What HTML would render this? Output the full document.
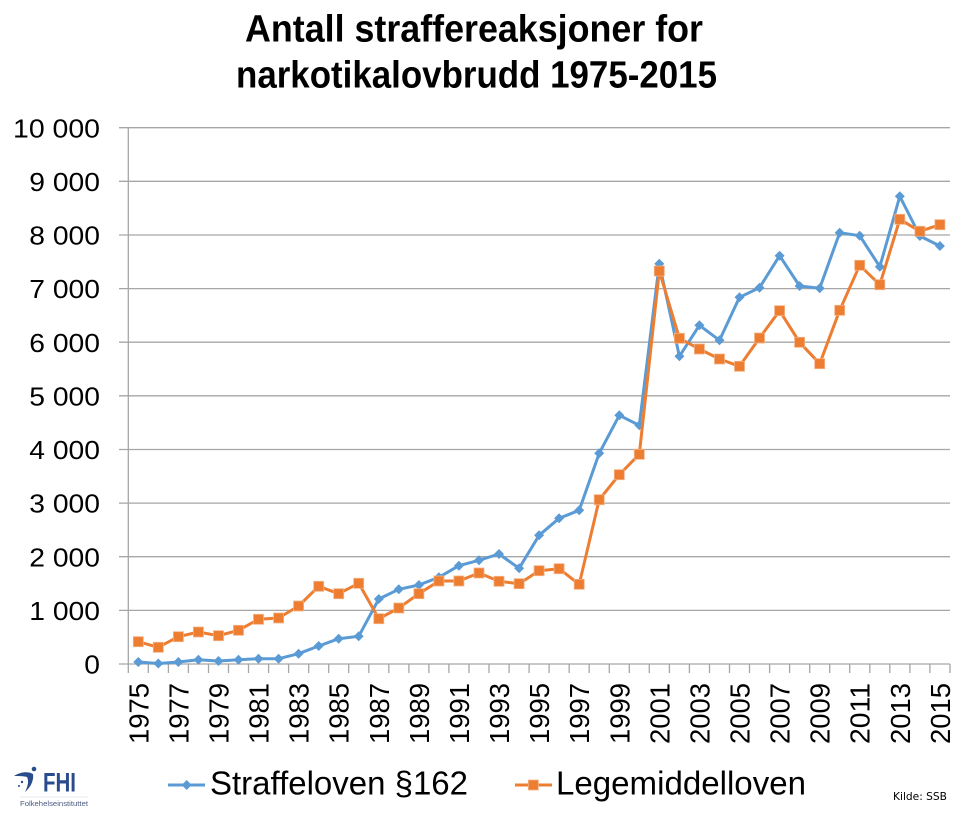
<!DOCTYPE html>
<html>
<head>
<meta charset="utf-8">
<style>
html,body{margin:0;padding:0;background:#fff;}
svg{display:block;}
</style>
</head>
<body>
<svg width="970" height="820" viewBox="0 0 970 820" xmlns="http://www.w3.org/2000/svg">
<rect x="0" y="0" width="970" height="820" fill="#ffffff"/>
<defs>
  <g id="dia"><path d="M0,-5 L5,0 L0,5 L-5,0 Z" fill="#5B9BD5"/></g>
  <g id="sq"><rect x="-5" y="-5" width="10" height="10" fill="#ED7D31" stroke="#F4B183" stroke-width="0.8"/></g>
</defs>

<!-- Title -->
<g font-family="Liberation Sans, Arial, sans-serif" font-weight="bold" font-size="38" fill="#000">
  <text x="245" y="41.7" textLength="458" lengthAdjust="spacingAndGlyphs">Antall straffereaksjoner for</text>
  <text x="236" y="87.3" textLength="481" lengthAdjust="spacingAndGlyphs">narkotikalovbrudd 1975-2015</text>
</g>

<!-- Gridlines -->
<g stroke="#A6A6A6" stroke-width="1.3">
  <line x1="119" y1="127.7" x2="950" y2="127.7"/>
  <line x1="119" y1="181.3" x2="950" y2="181.3"/>
  <line x1="119" y1="235.0" x2="950" y2="235.0"/>
  <line x1="119" y1="288.6" x2="950" y2="288.6"/>
  <line x1="119" y1="342.2" x2="950" y2="342.2"/>
  <line x1="119" y1="395.8" x2="950" y2="395.8"/>
  <line x1="119" y1="449.5" x2="950" y2="449.5"/>
  <line x1="119" y1="503.1" x2="950" y2="503.1"/>
  <line x1="119" y1="556.7" x2="950" y2="556.7"/>
  <line x1="119" y1="610.4" x2="950" y2="610.4"/>
  <line x1="119" y1="664.0" x2="950" y2="664.0"/>
  <line x1="128.3" y1="127.7" x2="128.3" y2="664"/>
</g>
<!-- X ticks -->
<g stroke="#A6A6A6" stroke-width="1.3">
  <path d="M128.3,664v9 M148.3,664v9 M168.4,664v9 M188.4,664v9 M208.5,664v9 M228.5,664v9 M248.5,664v9 M268.6,664v9 M288.6,664v9 M308.7,664v9 M328.7,664v9 M348.7,664v9 M368.8,664v9 M388.8,664v9 M408.9,664v9 M428.9,664v9 M448.9,664v9 M469.0,664v9 M489.0,664v9 M509.1,664v9 M529.1,664v9 M549.1,664v9 M569.2,664v9 M589.2,664v9 M609.3,664v9 M629.3,664v9 M649.3,664v9 M669.4,664v9 M689.4,664v9 M709.5,664v9 M729.5,664v9 M749.5,664v9 M769.6,664v9 M789.6,664v9 M809.7,664v9 M829.7,664v9 M849.7,664v9 M869.8,664v9 M889.8,664v9 M909.9,664v9 M929.9,664v9 M950,664v9"/>
</g>

<!-- Y labels -->
<g font-family="Liberation Sans, Arial, sans-serif" font-size="26" fill="#000" text-anchor="end">
  <text x="100" y="137.3" textLength="87" lengthAdjust="spacingAndGlyphs">10 000</text>
  <text x="100" y="190.9" textLength="70.7" lengthAdjust="spacingAndGlyphs">9 000</text>
  <text x="100" y="244.6" textLength="70.7" lengthAdjust="spacingAndGlyphs">8 000</text>
  <text x="100" y="298.2" textLength="70.7" lengthAdjust="spacingAndGlyphs">7 000</text>
  <text x="100" y="351.8" textLength="70.7" lengthAdjust="spacingAndGlyphs">6 000</text>
  <text x="100" y="405.4" textLength="70.7" lengthAdjust="spacingAndGlyphs">5 000</text>
  <text x="100" y="459.1" textLength="70.7" lengthAdjust="spacingAndGlyphs">4 000</text>
  <text x="100" y="512.7" textLength="70.7" lengthAdjust="spacingAndGlyphs">3 000</text>
  <text x="100" y="566.3" textLength="70.7" lengthAdjust="spacingAndGlyphs">2 000</text>
  <text x="100" y="620.0" textLength="70.7" lengthAdjust="spacingAndGlyphs">1 000</text>
  <text x="100" y="673.6" textLength="15.7" lengthAdjust="spacingAndGlyphs">0</text>
</g>

<!-- X labels -->
<g font-family="Liberation Sans, Arial, sans-serif" font-size="28" fill="#000" text-anchor="end">
  <text transform="translate(148.3,683) rotate(-90)" textLength="61" lengthAdjust="spacingAndGlyphs">1975</text>
  <text transform="translate(188.4,683) rotate(-90)" textLength="61" lengthAdjust="spacingAndGlyphs">1977</text>
  <text transform="translate(228.5,683) rotate(-90)" textLength="61" lengthAdjust="spacingAndGlyphs">1979</text>
  <text transform="translate(268.5,683) rotate(-90)" textLength="61" lengthAdjust="spacingAndGlyphs">1981</text>
  <text transform="translate(308.6,683) rotate(-90)" textLength="61" lengthAdjust="spacingAndGlyphs">1983</text>
  <text transform="translate(348.7,683) rotate(-90)" textLength="61" lengthAdjust="spacingAndGlyphs">1985</text>
  <text transform="translate(388.8,683) rotate(-90)" textLength="61" lengthAdjust="spacingAndGlyphs">1987</text>
  <text transform="translate(428.9,683) rotate(-90)" textLength="61" lengthAdjust="spacingAndGlyphs">1989</text>
  <text transform="translate(469.0,683) rotate(-90)" textLength="61" lengthAdjust="spacingAndGlyphs">1991</text>
  <text transform="translate(509.0,683) rotate(-90)" textLength="61" lengthAdjust="spacingAndGlyphs">1993</text>
  <text transform="translate(549.1,683) rotate(-90)" textLength="61" lengthAdjust="spacingAndGlyphs">1995</text>
  <text transform="translate(589.2,683) rotate(-90)" textLength="61" lengthAdjust="spacingAndGlyphs">1997</text>
  <text transform="translate(629.3,683) rotate(-90)" textLength="61" lengthAdjust="spacingAndGlyphs">1999</text>
  <text transform="translate(669.3,683) rotate(-90)" textLength="61" lengthAdjust="spacingAndGlyphs">2001</text>
  <text transform="translate(709.4,683) rotate(-90)" textLength="61" lengthAdjust="spacingAndGlyphs">2003</text>
  <text transform="translate(749.5,683) rotate(-90)" textLength="61" lengthAdjust="spacingAndGlyphs">2005</text>
  <text transform="translate(789.6,683) rotate(-90)" textLength="61" lengthAdjust="spacingAndGlyphs">2007</text>
  <text transform="translate(829.7,683) rotate(-90)" textLength="61" lengthAdjust="spacingAndGlyphs">2009</text>
  <text transform="translate(869.7,683) rotate(-90)" textLength="61" lengthAdjust="spacingAndGlyphs">2011</text>
  <text transform="translate(909.8,683) rotate(-90)" textLength="61" lengthAdjust="spacingAndGlyphs">2013</text>
  <text transform="translate(949.9,683) rotate(-90)" textLength="61" lengthAdjust="spacingAndGlyphs">2015</text>
</g>

<!-- Blue series: Straffeloven §162 -->
<polyline fill="none" stroke="#5B9BD5" stroke-width="3" stroke-linejoin="round"
points="138.3,662 158.3,663.5 178.4,662 198.4,659.7 218.5,661 238.5,659.7 258.5,658.7 278.6,658.7 298.6,653.7 318.7,646 338.7,638.7 358.7,636.3 378.8,599 398.8,589.3 418.9,585 438.9,577.3 458.9,565.7 479.0,560.3 499.0,554 519.1,568.3 539.1,535.3 559.1,518.3 579.2,510.3 599.2,453.3 619.3,415.3 639.3,425.3 659.3,263.7 679.4,356.3 699.4,325.3 719.5,340.3 739.5,297.3 759.5,287.7 779.6,255.7 799.6,286 819.7,288.3 839.7,232.7 859.7,235.7 879.8,266.7 899.8,196.3 919.9,236 939.9,246"/>
<g>
<use href="#dia" x="138.3" y="662"/><use href="#dia" x="158.3" y="663.5"/><use href="#dia" x="178.4" y="662"/><use href="#dia" x="198.4" y="659.7"/><use href="#dia" x="218.5" y="661"/><use href="#dia" x="238.5" y="659.7"/><use href="#dia" x="258.5" y="658.7"/><use href="#dia" x="278.6" y="658.7"/><use href="#dia" x="298.6" y="653.7"/><use href="#dia" x="318.7" y="646"/><use href="#dia" x="338.7" y="638.7"/><use href="#dia" x="358.7" y="636.3"/><use href="#dia" x="378.8" y="599"/><use href="#dia" x="398.8" y="589.3"/><use href="#dia" x="418.9" y="585"/><use href="#dia" x="438.9" y="577.3"/><use href="#dia" x="458.9" y="565.7"/><use href="#dia" x="479.0" y="560.3"/><use href="#dia" x="499.0" y="554"/><use href="#dia" x="519.1" y="568.3"/><use href="#dia" x="539.1" y="535.3"/><use href="#dia" x="559.1" y="518.3"/><use href="#dia" x="579.2" y="510.3"/><use href="#dia" x="599.2" y="453.3"/><use href="#dia" x="619.3" y="415.3"/><use href="#dia" x="639.3" y="425.3"/><use href="#dia" x="659.3" y="263.7"/><use href="#dia" x="679.4" y="356.3"/><use href="#dia" x="699.4" y="325.3"/><use href="#dia" x="719.5" y="340.3"/><use href="#dia" x="739.5" y="297.3"/><use href="#dia" x="759.5" y="287.7"/><use href="#dia" x="779.6" y="255.7"/><use href="#dia" x="799.6" y="286"/><use href="#dia" x="819.7" y="288.3"/><use href="#dia" x="839.7" y="232.7"/><use href="#dia" x="859.7" y="235.7"/><use href="#dia" x="879.8" y="266.7"/><use href="#dia" x="899.8" y="196.3"/><use href="#dia" x="919.9" y="236"/><use href="#dia" x="939.9" y="246"/>
</g>

<!-- Orange series: Legemiddelloven -->
<polyline fill="none" stroke="#ED7D31" stroke-width="3" stroke-linejoin="round"
points="138.3,641.7 158.3,647.3 178.4,636.7 198.4,632 218.5,635.7 238.5,630.3 258.5,619.3 278.6,618 298.6,606 318.7,586.3 338.7,593.7 358.7,583.3 378.8,618.7 398.8,608 418.9,593.7 438.9,581 458.9,581 479.0,573 499.0,581.3 519.1,583.7 539.1,570.7 559.1,568.7 579.2,584.3 599.2,499.7 619.3,474.7 639.3,454.3 659.3,271 679.4,338.3 699.4,349 719.5,359 739.5,366.3 759.5,338 779.6,310.7 799.6,342.3 819.7,363.7 839.7,310.3 859.7,265.3 879.8,284.7 899.8,219.3 919.9,231.3 939.9,224.7"/>
<g>
<use href="#sq" x="138.3" y="641.7"/><use href="#sq" x="158.3" y="647.3"/><use href="#sq" x="178.4" y="636.7"/><use href="#sq" x="198.4" y="632"/><use href="#sq" x="218.5" y="635.7"/><use href="#sq" x="238.5" y="630.3"/><use href="#sq" x="258.5" y="619.3"/><use href="#sq" x="278.6" y="618"/><use href="#sq" x="298.6" y="606"/><use href="#sq" x="318.7" y="586.3"/><use href="#sq" x="338.7" y="593.7"/><use href="#sq" x="358.7" y="583.3"/><use href="#sq" x="378.8" y="618.7"/><use href="#sq" x="398.8" y="608"/><use href="#sq" x="418.9" y="593.7"/><use href="#sq" x="438.9" y="581"/><use href="#sq" x="458.9" y="581"/><use href="#sq" x="479.0" y="573"/><use href="#sq" x="499.0" y="581.3"/><use href="#sq" x="519.1" y="583.7"/><use href="#sq" x="539.1" y="570.7"/><use href="#sq" x="559.1" y="568.7"/><use href="#sq" x="579.2" y="584.3"/><use href="#sq" x="599.2" y="499.7"/><use href="#sq" x="619.3" y="474.7"/><use href="#sq" x="639.3" y="454.3"/><use href="#sq" x="659.3" y="271"/><use href="#sq" x="679.4" y="338.3"/><use href="#sq" x="699.4" y="349"/><use href="#sq" x="719.5" y="359"/><use href="#sq" x="739.5" y="366.3"/><use href="#sq" x="759.5" y="338"/><use href="#sq" x="779.6" y="310.7"/><use href="#sq" x="799.6" y="342.3"/><use href="#sq" x="819.7" y="363.7"/><use href="#sq" x="839.7" y="310.3"/><use href="#sq" x="859.7" y="265.3"/><use href="#sq" x="879.8" y="284.7"/><use href="#sq" x="899.8" y="219.3"/><use href="#sq" x="919.9" y="231.3"/><use href="#sq" x="939.9" y="224.7"/>
</g>

<!-- Legend -->
<line x1="168" y1="785" x2="205" y2="785" stroke="#5B9BD5" stroke-width="3"/>
<use href="#dia" x="186.7" y="785"/>
<text x="210" y="794.3" font-family="Liberation Sans, Arial, sans-serif" font-size="33" fill="#000" textLength="258" lengthAdjust="spacingAndGlyphs">Straffeloven §162</text>
<line x1="515" y1="785" x2="552" y2="785" stroke="#ED7D31" stroke-width="3"/>
<use href="#sq" x="533.3" y="785"/>
<text x="556" y="794.3" font-family="Liberation Sans, Arial, sans-serif" font-size="33" fill="#000" textLength="250" lengthAdjust="spacingAndGlyphs">Legemiddelloven</text>

<!-- Source -->
<text x="893" y="800" font-family="DejaVu Sans, Verdana, sans-serif" font-size="10.5" fill="#000" textLength="54" lengthAdjust="spacingAndGlyphs">Kilde: SSB</text>

<!-- FHI logo -->
<g fill="#2B4C8C">
  <path d="M14,776 C20,772 28,771 33,774 C34,780 31,787 25,792 C28,786 29,781 27,777 C23,776 18,776 14,776 Z"/>
  <circle cx="34" cy="769" r="2.3"/>
  <circle cx="22" cy="782" r="1.2"/>
  <circle cx="19" cy="786" r="1"/>
  <text x="43" y="791.5" font-family="Liberation Sans, Arial, sans-serif" font-weight="bold" font-size="27" textLength="33" lengthAdjust="spacingAndGlyphs">FHI</text>
</g>
<line x1="20" y1="797" x2="88" y2="797" stroke="#e4e8f0" stroke-width="1"/>
<text x="20" y="806" font-family="Liberation Sans, Arial, sans-serif" font-size="7" fill="#4a5a80" textLength="68" lengthAdjust="spacingAndGlyphs">Folkehelseinstituttet</text>
</svg>
</body>
</html>
